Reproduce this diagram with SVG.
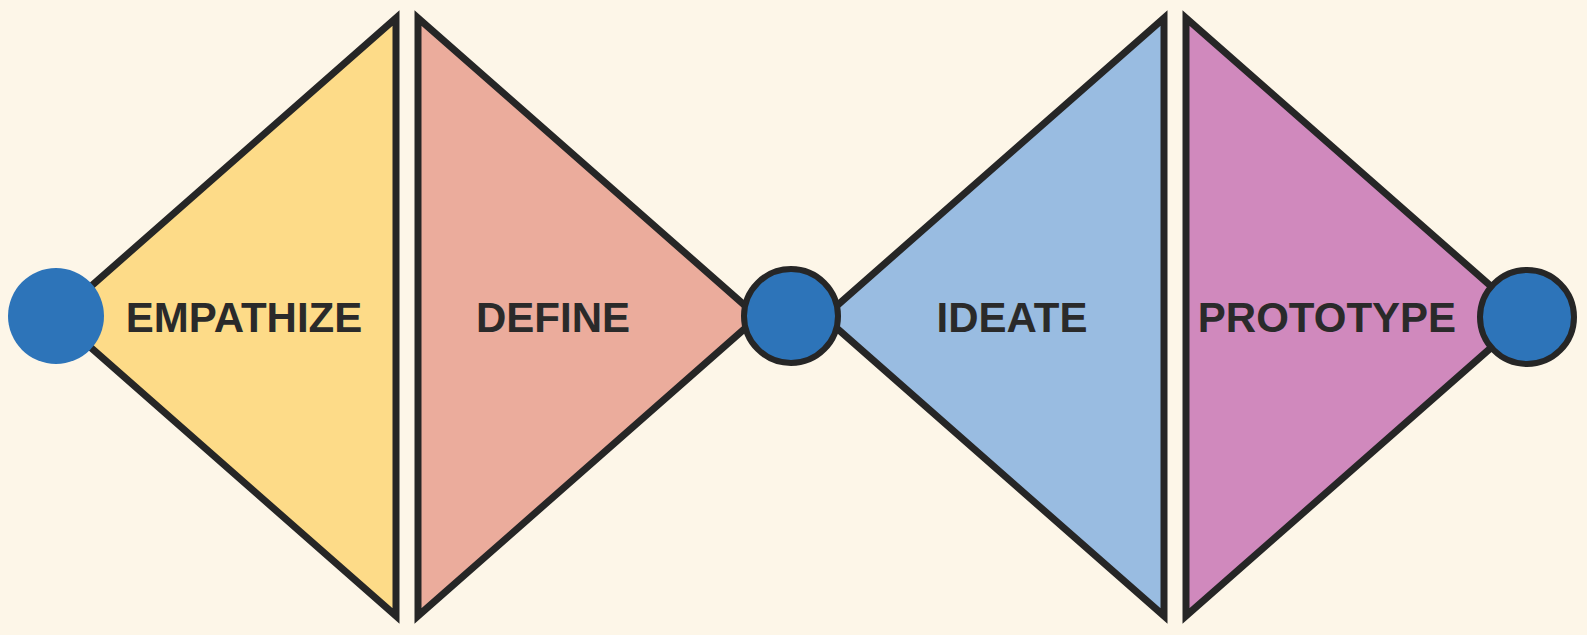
<svg xmlns="http://www.w3.org/2000/svg" width="1587" height="635" viewBox="0 0 1587 635">
  <style>
    .tri { stroke: #262626; stroke-width: 7; stroke-linejoin: miter; stroke-miterlimit: 10; }
    .dot { fill: #2d74b9; }
    .dot-s { fill: #2d74b9; stroke: #262626; stroke-width: 6; }
    .lbl { font-family: "Liberation Sans", sans-serif; font-weight: 700; font-size: 42px; fill: #2a2a2a; text-anchor: middle; }
  </style>
  <rect width="1587" height="635" fill="#fdf6e8"/>
  <g id="empathize">
    <polygon class="tri" points="396,18 396,616 56,317" fill="#fddb88"/>
    <text class="lbl" x="244" y="332">EMPATHIZE</text>
  </g>
  <g id="define">
    <polygon class="tri" points="418,18 418,616 758,317" fill="#ebac9c"/>
    <text class="lbl" x="553" y="332">DEFINE</text>
  </g>
  <g id="ideate">
    <polygon class="tri" points="1164,18 1164,616 824,317" fill="#99bce1"/>
    <text class="lbl" x="1012" y="332">IDEATE</text>
  </g>
  <g id="prototype">
    <polygon class="tri" points="1186,18 1186,616 1526,317" fill="#d089bd"/>
    <text class="lbl" x="1327" y="332">PROTOTYPE</text>
  </g>
  <g id="connectors"></g>
  <g id="start">
    <circle class="dot" cx="56" cy="316" r="48"/>
  </g>
  <g id="middle">
    <circle class="dot-s" cx="791" cy="316" r="47"/>
  </g>
  <g id="end">
    <circle class="dot-s" cx="1527" cy="317" r="47"/>
  </g>
</svg>
